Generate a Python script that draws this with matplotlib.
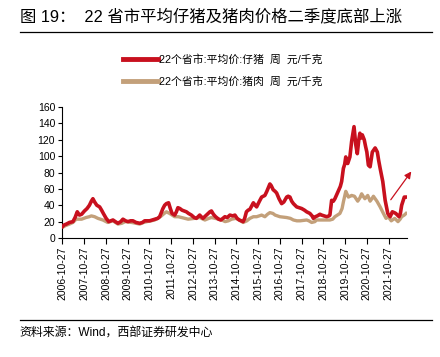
import matplotlib
matplotlib.use("Agg")
import matplotlib.pyplot as plt
import pandas as pd
import numpy as np

plt.rcParams['font.family'] = ['Liberation Sans', 'Noto Sans CJK SC', 'DejaVu Sans']

# ---- data (decimal years, values in 元/千克) ----
piglet_t = [2006.82, 2006.9, 2007.0, 2007.14, 2007.3, 2007.4, 2007.5, 2007.6, 2007.7, 2007.83,
            2007.95, 2008.06, 2008.15, 2008.22, 2008.3, 2008.4, 2008.53, 2008.62, 2008.7, 2008.83,
            2008.95, 2009.05, 2009.14, 2009.25, 2009.37, 2009.5, 2009.6, 2009.72, 2009.83, 2009.95,
            2010.06, 2010.2, 2010.37, 2010.5, 2010.6, 2010.72, 2010.83, 2010.95, 2011.06, 2011.2,
            2011.29, 2011.38, 2011.44, 2011.52, 2011.6, 2011.7, 2011.78, 2011.86, 2011.98, 2012.06,
            2012.13, 2012.22, 2012.32, 2012.42, 2012.52, 2012.62, 2012.75, 2012.88, 2012.98, 2013.13,
            2013.2, 2013.28, 2013.4, 2013.52, 2013.6, 2013.67, 2013.76, 2013.86, 2014.0, 2014.1,
            2014.2, 2014.29, 2014.4, 2014.52, 2014.65, 2014.75, 2014.85, 2014.95, 2015.13, 2015.2,
            2015.28, 2015.36, 2015.44, 2015.6, 2015.68, 2015.75, 2015.88, 2015.98, 2016.06, 2016.13,
            2016.22, 2016.28, 2016.36, 2016.42, 2016.51, 2016.6, 2016.67, 2016.78, 2016.9, 2017.0,
            2017.13, 2017.2, 2017.28, 2017.36, 2017.44, 2017.59, 2017.7, 2017.82, 2017.95, 2018.05,
            2018.2, 2018.3, 2018.36, 2018.45, 2018.54, 2018.66, 2018.74, 2018.85, 2018.97, 2019.08,
            2019.12, 2019.2, 2019.28, 2019.35, 2019.5, 2019.6, 2019.66, 2019.74, 2019.8, 2019.85,
            2019.94, 2020.04, 2020.12, 2020.23, 2020.31, 2020.38, 2020.45, 2020.5, 2020.55, 2020.61,
            2020.7, 2020.76, 2020.82, 2020.89, 2020.97, 2021.07, 2021.2, 2021.3, 2021.36, 2021.43,
            2021.55, 2021.66, 2021.72, 2021.78, 2021.89, 2021.99, 2022.08, 2022.15, 2022.3, 2022.36,
            2022.42, 2022.54, 2022.62]
piglet_v = [14, 16, 17, 19, 20, 25, 32, 28, 29, 33,
            36, 40, 45, 48, 44, 40, 38, 34, 30, 24,
            20, 21, 22, 20, 18, 20, 23, 21, 20, 21,
            21, 19, 18, 19, 21, 21, 21, 22, 23, 24,
            26, 32, 36, 40, 42, 43, 36, 30, 28, 32,
            37, 36, 34, 33, 32, 30, 28, 25, 24, 28,
            26, 24, 27, 30, 32, 33, 29, 26, 23, 22,
            24, 26, 25, 28, 27, 28, 24, 22, 20, 24,
            32, 34, 35, 43, 40, 38, 45, 50, 51, 52,
            57, 61, 66, 64, 59, 57, 55, 48, 42, 44,
            50, 51, 50, 45, 42, 38, 37, 36, 34, 32,
            30, 27, 24, 26, 27, 29, 28, 27, 26, 27,
            28, 46, 45, 48, 57, 63, 69, 85, 90, 99,
            91, 99, 118, 136, 114, 103, 120, 128, 122, 126,
            120, 112, 105, 89, 87, 105, 110, 105, 95, 85,
            69, 46, 38, 30, 26, 32, 31, 30, 26, 30,
            40, 50, 50]

pork_t = [2006.82, 2006.95, 2007.14, 2007.3, 2007.45, 2007.6, 2007.7, 2007.9, 2008.05, 2008.15,
          2008.3, 2008.45, 2008.68, 2008.9, 2009.14, 2009.37, 2009.55, 2009.7, 2010.0, 2010.2,
          2010.37, 2010.55, 2010.7, 2010.9, 2011.06, 2011.2, 2011.37, 2011.5, 2011.6, 2011.75,
          2011.98, 2012.15, 2012.3, 2012.45, 2012.6, 2012.9, 2013.13, 2013.37, 2013.55, 2013.67,
          2013.85, 2014.0, 2014.15, 2014.3, 2014.45, 2014.6, 2014.8, 2014.95, 2015.13, 2015.3,
          2015.44, 2015.6, 2015.75, 2015.98, 2016.13, 2016.25, 2016.36, 2016.5, 2016.6, 2016.82,
          2017.13, 2017.3, 2017.44, 2017.6, 2017.75, 2018.05, 2018.15, 2018.28, 2018.43, 2018.5,
          2018.7, 2018.9, 2019.12, 2019.25, 2019.35, 2019.58, 2019.68, 2019.74, 2019.85, 2019.92,
          2019.97, 2020.05, 2020.12, 2020.25, 2020.4, 2020.5, 2020.58, 2020.65, 2020.73, 2020.86,
          2020.97, 2021.05, 2021.12, 2021.2, 2021.28, 2021.43, 2021.58, 2021.7, 2021.8, 2021.94,
          2022.1, 2022.25, 2022.35, 2022.42, 2022.54, 2022.62]
pork_v = [13, 15, 17, 19, 23, 23, 23, 25, 26, 27,
          26, 24, 22, 19, 21, 17, 18, 20, 19, 18,
          17, 19, 20, 21, 22, 24, 27, 30, 32, 30,
          26, 26, 25, 24, 23, 24, 25, 22, 24, 25,
          24, 23, 22, 20, 21, 23, 24, 22, 19, 21,
          24, 26, 26, 28, 26, 29, 31, 30, 28, 26,
          25, 24, 22, 21, 21, 22, 21, 19, 20, 22,
          22, 22, 22, 23, 26, 30, 36, 44, 57, 53,
          50, 51, 52, 51, 45, 49, 54, 51, 48, 52,
          45, 48, 51, 48, 45, 38, 30, 24, 26, 21,
          24, 20, 23, 26, 28, 30]

tick_labels = ['2006-10-27', '2007-10-27', '2008-10-27', '2009-10-27', '2010-10-27',
               '2011-10-27', '2012-10-27', '2013-10-27', '2014-10-27', '2015-10-27',
               '2016-10-27', '2017-10-27', '2018-10-27', '2019-10-27', '2020-10-27',
               '2021-10-27']

label_piglet = '22个省市:平均价:仔猪  周  元/千克'
label_pork = '22个省市:平均价:猪肉  周  元/千克'
title = '图 19：  22 省市平均仔猪及猪肉价格二季度底部上涨'
source = '资料来源：Wind，西部证券研发中心'


def to_dates(ts):
    return [pd.Timestamp(f"{int(t)}-01-01") + pd.Timedelta(days=(t - int(t)) * 365.25) for t in ts]


RED = '#C8101E'
TAN = '#C3A07A'

fig = plt.figure(figsize=(4.40, 3.57), dpi=100)
ax = fig.add_axes([0.141, 0.3333, 0.784, 0.367])

ax.plot(to_dates(piglet_t), piglet_v, color=RED, lw=2.6, label=label_piglet, zorder=3,
        solid_joinstyle='round')
ax.plot(to_dates(pork_t), pork_v, color=TAN, lw=2.4, label=label_pork, zorder=2,
        solid_joinstyle='round')

ax.set_ylim(0, 160)
ax.set_yticks(np.arange(0, 161, 20))
ax.set_xlim(pd.Timestamp('2006-10-20'), pd.Timestamp('2022-09-01'))
ticks = [pd.Timestamp(s) for s in tick_labels]
ax.set_xticks(ticks)
ax.set_xticklabels(tick_labels, rotation=90, fontsize=7.5)
ax.tick_params(axis='y', labelsize=7.5, length=3, width=0.8, pad=2)
ax.tick_params(axis='x', length=4, width=0.8, pad=2)
for s in ['top', 'right']:
    ax.spines[s].set_visible(False)
for s in ['left', 'bottom']:
    ax.spines[s].set_linewidth(0.8)
    ax.spines[s].set_color('black')

leg = ax.legend(loc='center left', bbox_to_anchor=(0.177, 1.279), frameon=False, fontsize=7.8,
                handlelength=3.2, handletextpad=0.1, labelspacing=1.05, borderaxespad=0,
                borderpad=0)
for line in leg.get_lines():
    line.set_linewidth(3.5)

# arrow
ax.annotate('', xy=(pd.Timestamp('2022-12-10'), 84), xytext=(pd.Timestamp('2021-11-05'), 44),
            arrowprops=dict(arrowstyle='-|>', color=RED, lw=0.9, mutation_scale=10),
            annotation_clip=False)

fig.text(0.045, 0.955, title, fontsize=11.8, va='center', ha='left')
fig.add_artist(plt.Line2D([0.045, 0.982], [0.91, 0.91], color='black', lw=0.9))
fig.add_artist(plt.Line2D([0.045, 0.982], [0.104, 0.104], color='black', lw=0.9))
fig.text(0.045, 0.065, source, fontsize=8.6, va='center', ha='left')

fig.savefig('out.png', dpi=100)
